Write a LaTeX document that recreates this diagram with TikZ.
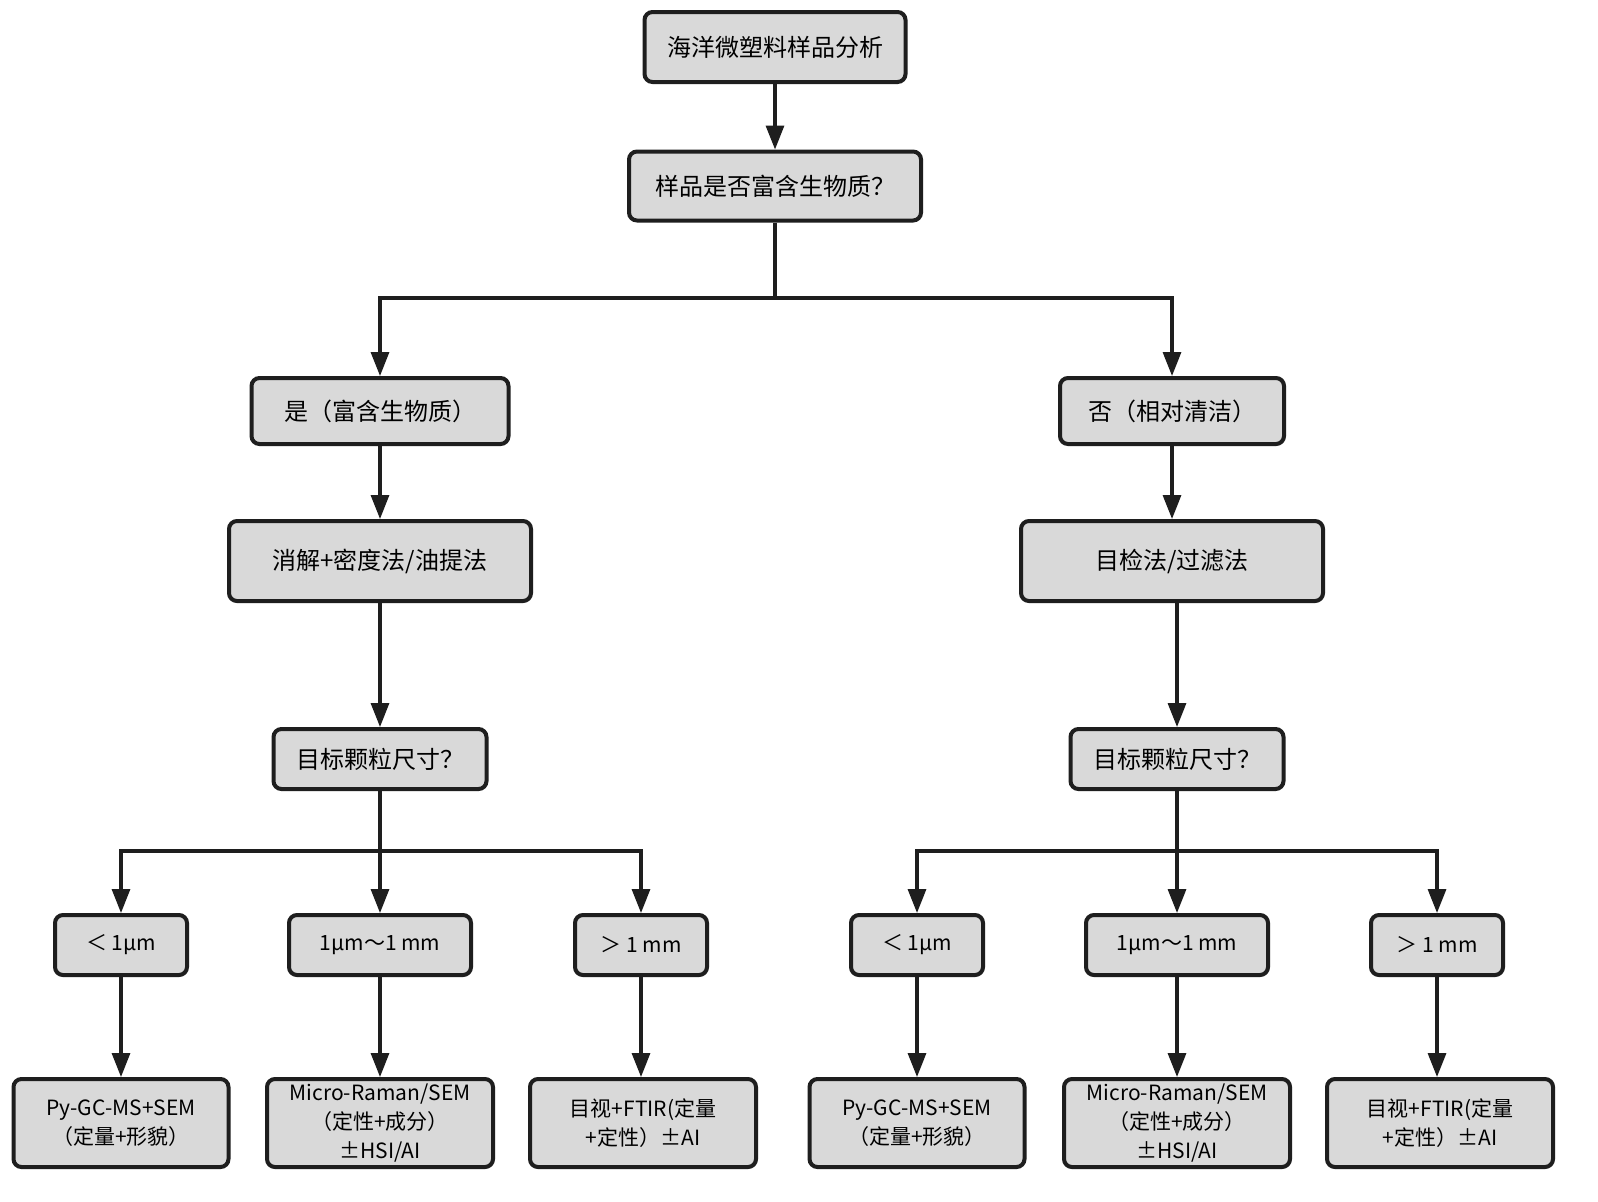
\documentclass[tikz,border=0pt]{standalone}
\usepackage{fontspec}
\setmainfont{Noto Sans CJK SC}
\usetikzlibrary{arrows.meta}
\definecolor{boxfill}{HTML}{D9D9D9}
\definecolor{ink}{HTML}{1E1E1E}
\begin{document}
\begin{tikzpicture}[x=0.5pt,y=-0.5pt,
  box/.style={draw=ink, line width=2pt, fill=boxfill, rounded corners=4pt, align=center, inner sep=0pt, font=\fontsize{12}{15}\selectfont},
  small/.style={box, font=\fontsize{10.5}{14.5}\selectfont},
  arr/.style={line width=1.6pt, draw=ink, -{Triangle[length=12pt,width=9pt]}},
  ln/.style={line width=1.6pt, draw=ink}]
\useasboundingbox (0,0) rectangle (1598,1201);
\fill[white] (0,0) rectangle (1598,1201);
% top
\node[box, minimum width=130.5pt, minimum height=35pt] (n1) at (775,47) {海洋微塑料样品分析};
\node[box, minimum width=146pt, minimum height=34.5pt] (n2) at (775,186) {样品是否富含生物质？};
\node[box, minimum width=128.5pt, minimum height=33pt] (n3) at (380,411) {是（富含生物质）};
\node[box, minimum width=112pt, minimum height=33pt] (n4) at (1172,411) {否（相对清洁）};
\node[box, minimum width=151pt, minimum height=40pt] (n5) at (380,561) {消解+密度法/油提法};
\node[box, minimum width=151pt, minimum height=40pt] (n6) at (1172,561) {目检法/过滤法};
\node[box, minimum width=106.5pt, minimum height=30pt] (n7) at (380,759) {目标颗粒尺寸？};
\node[box, minimum width=106.5pt, minimum height=30pt] (n8) at (1177,759) {目标颗粒尺寸？};
% size boxes
\node[small, minimum width=66pt, minimum height=30pt] (s1) at (121,945) {＜ 1μm};
\node[small, minimum width=91pt, minimum height=30pt] (s2) at (380,945) {1μm～1 mm};
\node[small, minimum width=66pt, minimum height=30pt] (s3) at (641,945) {＞ 1 mm};
\node[small, minimum width=66pt, minimum height=30pt] (s4) at (917,945) {＜ 1μm};
\node[small, minimum width=91pt, minimum height=30pt] (s5) at (1177,945) {1μm～1 mm};
\node[small, minimum width=66pt, minimum height=30pt] (s6) at (1437,945) {＞ 1 mm};
% bottom boxes
\node[small, minimum width=107.5pt, minimum height=44pt] (t1) at (121,1123) {Py-GC-MS+SEM\\（定量+形貌）};
\node[small, minimum width=113pt, minimum height=44pt] (t2) at (380,1123) {Micro-Raman/SEM\\（定性+成分）\\±HSI/AI};
\node[small, minimum width=113pt, minimum height=44pt] (t3) at (643,1123) {目视+FTIR(定量\\+定性）±AI};
\node[small, minimum width=107.5pt, minimum height=44pt] (t4) at (917,1123) {Py-GC-MS+SEM\\（定量+形貌）};
\node[small, minimum width=113pt, minimum height=44pt] (t5) at (1177,1123) {Micro-Raman/SEM\\（定性+成分）\\±HSI/AI};
\node[small, minimum width=113pt, minimum height=44pt] (t6) at (1440,1123) {目视+FTIR(定量\\+定性）±AI};
% connectors
\coordinate (b1) at (775,298);
\coordinate (c1) at (380,851);
\coordinate (c2) at (1177,851);
\draw[arr] (n1) -- (n2);
\draw[ln] (n2) -- (b1);
\draw[arr] (b1) -| (n3);
\draw[arr] (b1) -| (n4);
\draw[arr] (n3) -- (n5);
\draw[arr] (n4) -- (n6);
\draw[arr] (n5) -- (n7);
\draw[arr] (n8.north |- n6.south) -- (n8.north);
\draw[ln] (n7) -- (c1);
\draw[ln] (n8) -- (c2);
\draw[arr] (c1) -| (s1);
\draw[arr] (c1) -- (s2);
\draw[arr] (c1) -| (s3);
\draw[arr] (c2) -| (s4);
\draw[arr] (c2) -- (s5);
\draw[arr] (c2) -| (s6);
\draw[arr] (s1) -- (t1);
\draw[arr] (s2) -- (t2);
\draw[arr] (s3) -- (s3 |- t3.north);
\draw[arr] (s4) -- (t4);
\draw[arr] (s5) -- (t5);
\draw[arr] (s6) -- (s6 |- t6.north);
\end{tikzpicture}
\end{document}
